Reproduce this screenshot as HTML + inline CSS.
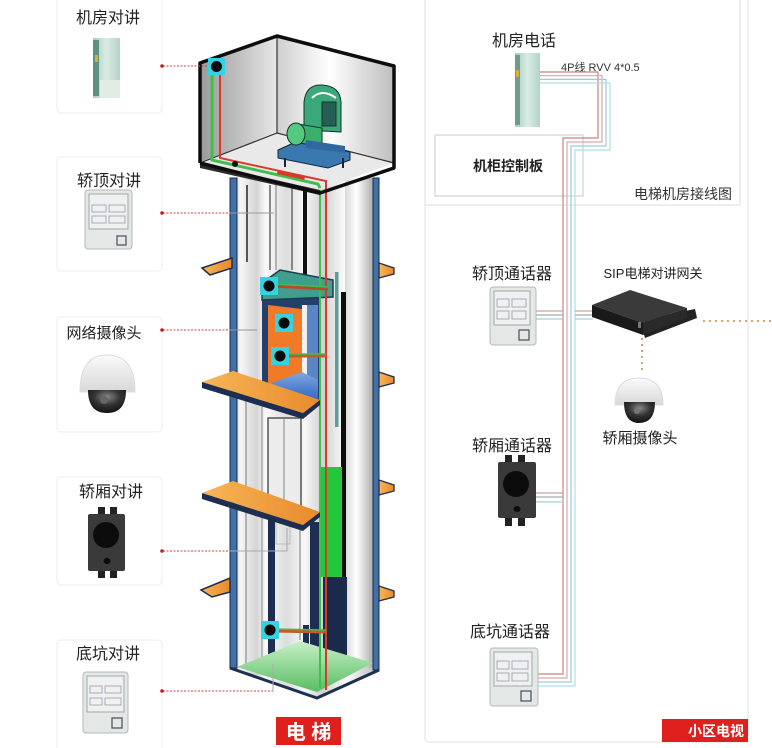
<!DOCTYPE html>
<html><head><meta charset="utf-8"><style>
html,body{margin:0;padding:0;background:#fff;}
svg{display:block;}
text{font-family:"Liberation Sans","Noto Sans CJK SC",sans-serif;}
</style></head><body>
<svg width="772" height="748" viewBox="0 0 772 748" xmlns="http://www.w3.org/2000/svg">
<defs>
<linearGradient id="gWL" x1="0" x2="1" y1="0" y2="0"><stop offset="0" stop-color="#9a9a9a"/><stop offset="1" stop-color="#e6e6e6"/></linearGradient>
<linearGradient id="gWR" x1="0" x2="1" y1="0" y2="0"><stop offset="0" stop-color="#cfcfcf"/><stop offset="0.45" stop-color="#ffffff"/><stop offset="1" stop-color="#bdbdbd"/></linearGradient>
<linearGradient id="gSh" x1="0" x2="1" y1="0" y2="0">
<stop offset="0" stop-color="#c4c4c4"/><stop offset="0.07" stop-color="#f6f6f6"/><stop offset="0.18" stop-color="#d4d4d4"/><stop offset="0.24" stop-color="#fafafa"/><stop offset="0.38" stop-color="#dcdcdc"/><stop offset="0.5" stop-color="#f8f8f8"/><stop offset="0.62" stop-color="#d0d0d0"/><stop offset="0.78" stop-color="#fdfdfd"/><stop offset="1" stop-color="#b4b4b4"/></linearGradient>
<linearGradient id="gCol" x1="0" x2="1" y1="0" y2="0"><stop offset="0" stop-color="#d8d8d8"/><stop offset="0.4" stop-color="#ffffff"/><stop offset="1" stop-color="#a8a8a8"/></linearGradient>
<linearGradient id="gOr" x1="0" x2="1" y1="0" y2="0"><stop offset="0" stop-color="#f7b656"/><stop offset="1" stop-color="#e88a2c"/></linearGradient>
<linearGradient id="gPh" x1="0" x2="1" y1="0" y2="0"><stop offset="0" stop-color="#a6ccbf"/><stop offset="0.5" stop-color="#d9ece5"/><stop offset="1" stop-color="#b4d2c7"/></linearGradient>
<linearGradient id="gPit" x1="0" x2="0" y1="0" y2="1"><stop offset="0" stop-color="#c8f0c8"/><stop offset="1" stop-color="#58bd62"/></linearGradient>
<linearGradient id="gBlue" x1="0" x2="0" y1="0" y2="1"><stop offset="0" stop-color="#7fa8e0"/><stop offset="1" stop-color="#2d62c0"/></linearGradient>
<linearGradient id="gDome" x1="0" x2="0" y1="0" y2="1"><stop offset="0" stop-color="#fafafa"/><stop offset="1" stop-color="#d8d8d8"/></linearGradient>
<radialGradient id="gLens" cx="0.5" cy="0.3" r="0.7"><stop offset="0" stop-color="#888"/><stop offset="0.5" stop-color="#333"/><stop offset="1" stop-color="#111"/></radialGradient>
</defs>

<!-- ============ LEFT CARDS ============ -->
<g fill="#fff" stroke="#ececec" stroke-width="1">
<rect x="57" y="-4" width="105" height="117" rx="4"/>
<rect x="57" y="157" width="105" height="114" rx="4"/>
<rect x="57" y="317" width="105" height="115" rx="4"/>
<rect x="57" y="477" width="105" height="108" rx="4"/>
<rect x="57" y="640" width="105" height="112" rx="4"/>
</g>
<g font-size="16" fill="#222" text-anchor="middle">
<text x="108" y="23">机房对讲</text>
<text x="109" y="186">轿顶对讲</text>
<text x="104" y="338" font-size="15">网络摄像头</text>
<text x="111" y="497">轿厢对讲</text>
<text x="108" y="659">底坑对讲</text>
</g>

<!-- card1 device -->
<rect x="93" y="38" width="27" height="60" fill="url(#gPh)"/>
<rect x="93" y="40" width="6" height="56" fill="#5f8f80"/>
<rect x="95" y="55" width="3" height="7" fill="#d6b032"/>
<rect x="100" y="80" width="20" height="18" fill="#e2ece7"/>

<!-- card2 device -->
<rect x="85" y="190" width="47" height="59" rx="3" fill="#e3e7e6" stroke="#b5baba"/>
<rect x="89" y="194" width="39" height="35" fill="#eef1f0" stroke="#a0a8a8"/>
<rect x="92" y="205" width="14" height="7" fill="none" stroke="#aab"/><rect x="109" y="205" width="16" height="7" fill="none" stroke="#aab"/>
<rect x="92" y="216" width="14" height="7" fill="none" stroke="#aab"/><rect x="109" y="216" width="16" height="7" fill="none" stroke="#aab"/>
<rect x="117" y="236" width="9" height="9" fill="none" stroke="#556" stroke-width="1.3"/>

<!-- card3 camera -->
<path d="M80,392 Q80,355 107,355 Q135,355 135,392 Z" fill="url(#gDome)" stroke="#ddd"/>
<path d="M88,390 L126,390 Q126,413 107,413 Q88,413 88,390 Z" fill="url(#gLens)"/>
<circle cx="104" cy="400" r="4" fill="#666"/>

<!-- card4 device -->
<rect x="98" y="507" width="7" height="9" fill="#222"/><rect x="110" y="507" width="7" height="9" fill="#222"/>
<rect x="98" y="569" width="7" height="9" fill="#222"/><rect x="110" y="569" width="7" height="9" fill="#222"/>
<rect x="88" y="514" width="37" height="57" rx="2" fill="#3a3a3a"/>
<circle cx="106" cy="535" r="13" fill="#0c0c0c"/>
<ellipse cx="107" cy="561" rx="3.5" ry="3" fill="#0c0c0c"/>

<!-- card5 device -->
<rect x="83" y="672" width="45" height="61" rx="3" fill="#e3e7e6" stroke="#b5baba"/>
<rect x="87" y="676" width="37" height="36" fill="#eef1f0" stroke="#a0a8a8"/>
<rect x="90" y="686" width="12" height="7" fill="none" stroke="#aab"/><rect x="105" y="686" width="16" height="7" fill="none" stroke="#aab"/>
<rect x="90" y="698" width="12" height="7" fill="none" stroke="#aab"/><rect x="105" y="698" width="16" height="7" fill="none" stroke="#aab"/>
<rect x="112" y="718" width="10" height="10" fill="none" stroke="#556" stroke-width="1.3"/>

<!-- ============ SHAFT ============ -->
<polygon points="230,178 379,178 379,670 317,698 230,668" fill="url(#gSh)"/>
<rect x="345" y="178" width="29" height="490" fill="url(#gCol)"/>
<rect x="230" y="178" width="7" height="490" fill="#3f70a8" stroke="#1b2c4c" stroke-width="1"/>
<rect x="373" y="178" width="6" height="492" fill="#3f70a8" stroke="#1b2c4c" stroke-width="1"/>
<!-- upper rails -->
<g stroke-width="2">
<line x1="247" y1="185" x2="247" y2="262" stroke="#555"/>
<line x1="270" y1="185" x2="270" y2="270" stroke="#666" stroke-width="1.5"/>
<line x1="276" y1="185" x2="276" y2="270" stroke="#777" stroke-width="1"/>
<line x1="292" y1="185" x2="292" y2="270" stroke="#666" stroke-width="1.5"/>
<line x1="305" y1="190" x2="305" y2="278" stroke="#111" stroke-width="4"/>
<line x1="246" y1="380" x2="246" y2="665" stroke="#777" stroke-width="1"/>
<line x1="262" y1="395" x2="262" y2="665" stroke="#888" stroke-width="1"/>
<line x1="300" y1="520" x2="300" y2="640" stroke="#777" stroke-width="1"/>
</g>
<!-- door -->
<rect x="268" y="418" width="33" height="92" fill="#ececec" stroke="#555" stroke-width="1.5"/>
<line x1="284" y1="418" x2="284" y2="510" stroke="#888"/>
<rect x="276" y="520" width="14" height="24" fill="none" stroke="#bbb"/>
<!-- cabin -->
<polygon points="262,296 320,296 320,404 262,392" fill="#24406a"/>
<polygon points="268,305 302,309 302,372 268,388" fill="#f07a28"/>
<rect x="302" y="305" width="5" height="70" fill="#f2f2f2"/>
<polygon points="307,305 318,305 318,402 307,400" fill="#5b86c6"/>
<polygon points="266,385 302,372 318,380 318,402 266,392" fill="url(#gBlue)"/>
<polygon points="262,283 280,270 333,280 333,297 262,300" fill="#3f9e8e" stroke="#1c3c50" stroke-width="1.5"/>
<!-- rails/bars -->
<rect x="335" y="272" width="3.5" height="155" fill="#5d9c9a"/>
<rect x="341" y="292" width="5" height="298" fill="#0d0d0d"/>
<polygon points="320,467 342,467 342,577 320,577" fill="#22c83a"/>
<rect x="323" y="577" width="24" height="84" fill="#1a2a4a"/>
<rect x="310" y="522" width="10" height="135" fill="#1e2e50"/>
<rect x="268" y="520" width="7" height="135" fill="#1e2e50"/>
<rect x="303" y="625" width="6" height="43" fill="#1e2e50"/>
<!-- pit floor -->
<polygon points="237,667 300,641 373,663 317,692" fill="url(#gPit)"/>
<polyline points="230,668 317,698 379,670" fill="none" stroke="#1e3050" stroke-width="3"/>
<!-- cables -->
<polyline points="320,186 320,688" fill="none" stroke="#3fbf4e" stroke-width="2"/>
<polyline points="326,184 326,690" fill="none" stroke="#d83a2a" stroke-width="2"/>

<!-- slabs -->
<polygon points="202,268 232,258 232,268 210,275" fill="url(#gOr)" stroke="#1e2e50" stroke-width="1.5"/>
<polygon points="202,382 233,371 320,400 303,413" fill="url(#gOr)"/>
<polygon points="202,382 303,413 303,419 202,388" fill="#1e2e50"/>
<polygon points="303,413 320,400 320,405 303,419" fill="#1e2e50"/>
<polygon points="202,493 233,481 320,512 303,525" fill="url(#gOr)"/>
<polygon points="202,493 303,525 303,531 202,499" fill="#1e2e50"/>
<polygon points="303,525 320,512 320,517 303,531" fill="#1e2e50"/>
<polygon points="201,590 230,578 230,592 212,597" fill="url(#gOr)" stroke="#1e2e50" stroke-width="1.5"/>
<g fill="url(#gOr)" stroke="#1e2e50" stroke-width="1.3">
<polygon points="379,263 394,268 394,274 379,278"/>
<polygon points="379,372 394,377 394,383 379,387"/>
<polygon points="379,480 394,485 394,491 379,495"/>
<polygon points="379,586 394,591 394,597 379,601"/>
</g>

<!-- cameras in shaft and bars -->
<line x1="272" y1="286" x2="328" y2="289" stroke="#b84a2a" stroke-width="3"/>
<line x1="272" y1="284" x2="328" y2="287" stroke="#3fbf4e" stroke-width="1.5"/>
<line x1="283" y1="356" x2="326" y2="356" stroke="#c25a2a" stroke-width="3"/>
<line x1="283" y1="354" x2="326" y2="354" stroke="#3fbf4e" stroke-width="1.5"/>
<line x1="272" y1="631" x2="326" y2="632" stroke="#c25a2a" stroke-width="3"/>
<line x1="272" y1="629" x2="326" y2="630" stroke="#3fbf4e" stroke-width="1.5"/>
<g fill="#35d2e2">
<rect x="260" y="277" width="18" height="18"/>
<rect x="275" y="314" width="18" height="18"/>
<rect x="271" y="347" width="18" height="18"/>
<rect x="261" y="621" width="18" height="18"/>
</g>
<g fill="#0a0a0a">
<circle cx="269" cy="286" r="5.5"/><circle cx="284" cy="323" r="5.5"/><circle cx="280" cy="356" r="5.5"/><circle cx="270" cy="630" r="5.5"/>
</g>

<!-- ============ MACHINE ROOM ============ -->
<polygon points="200,63 277,36 277,133 200,163" fill="url(#gWL)"/>
<polygon points="277,36 394,66 394,163 277,133" fill="url(#gWR)"/>
<polygon points="200,163 277,133 394,163 320,190" fill="#e9e9e9"/>
<polygon points="200,163 320,190 320,195 200,168" fill="#2a2a2a"/>
<line x1="277" y1="36" x2="277" y2="133" stroke="#333" stroke-width="1.2"/>
<polyline points="200,163 277,133 394,163" fill="none" stroke="#333" stroke-width="1.2"/>
<!-- machine -->
<polygon points="278,150 300,140 350,152 350,160 328,168 278,158" fill="#3a78b0" stroke="#13243a" stroke-width="1"/>
<line x1="285" y1="158" x2="285" y2="167" stroke="#13243a" stroke-width="2"/>
<line x1="343" y1="158" x2="343" y2="168" stroke="#13243a" stroke-width="2"/>
<path d="M304,130 L304,102 Q306,84 322,85 Q340,86 341,102 L341,132 Z" fill="#3aa878" stroke="#13352a" stroke-width="1"/>
<path d="M312,98 Q322,88 336,98" fill="none" stroke="#fff" stroke-width="2"/>
<rect x="322" y="102" width="14" height="24" fill="#245e55" stroke="#13352a"/>
<polygon points="298,124 322,128 322,146 298,143" fill="#3ab06c" stroke="#13352a" stroke-width="1"/>
<ellipse cx="296" cy="134" rx="9" ry="11" fill="#55c87f" stroke="#13352a" stroke-width="1"/>
<polygon points="306,140 345,146 345,153 306,148" fill="#2e6aa0"/>
<!-- machine room cables -->
<polyline points="212,75 212,160 318,184 320,188" fill="none" stroke="#3fbf4e" stroke-width="3"/>
<polyline points="220,75 220,158 326,181 326,188" fill="none" stroke="#d83a2a" stroke-width="2"/>
<rect x="277" y="173" width="28" height="4" fill="#d83a2a" transform="rotate(12 291 175)"/>
<circle cx="235" cy="164" r="3" fill="#111"/>
<!-- outline -->
<polyline points="200,163 200,63 277,36 394,66 394,168 320,193 200,163" fill="none" stroke="#0d0d0d" stroke-width="3.5" stroke-linejoin="round"/>
<rect x="208" y="58" width="17" height="17" fill="#35d2e2"/>
<circle cx="216.5" cy="66.5" r="5.5" fill="#0a0a0a"/>

<!-- connector lines from cards -->
<g fill="none" stroke-width="1">
<line x1="163" y1="66" x2="207" y2="66" stroke="#c44" stroke-dasharray="2,1.5"/>
<line x1="163" y1="213" x2="230" y2="213" stroke="#c44" stroke-dasharray="2,1.5"/>
<line x1="230" y1="213" x2="274" y2="213" stroke="#999"/>
<line x1="163" y1="330" x2="230" y2="330" stroke="#c44" stroke-dasharray="2,1.5"/>
<line x1="230" y1="330" x2="257" y2="330" stroke="#999"/>
<line x1="163" y1="551" x2="230" y2="551" stroke="#c44" stroke-dasharray="2,1.5"/>
<polyline points="230,551 287,551 287,528" stroke="#aaa"/>
<line x1="163" y1="691" x2="273" y2="691" stroke="#c44" stroke-dasharray="2,1.5"/>
<line x1="273" y1="691" x2="273" y2="664" stroke="#aaa"/>
</g>
<g fill="#b22">
<circle cx="162" cy="66" r="1.8"/><circle cx="162" cy="213" r="1.8"/><circle cx="162" cy="330" r="1.8"/><circle cx="162" cy="551" r="1.8"/><circle cx="162" cy="691" r="1.8"/>
</g>

<!-- 电梯 label -->
<rect x="276" y="717" width="65" height="28" fill="#e0201c"/>
<text x="308.5" y="739" font-size="20" font-weight="bold" fill="#fff" text-anchor="middle">电 梯</text>

<!-- ============ RIGHT PANEL ============ -->
<rect x="425" y="-5" width="323" height="747" rx="4" fill="none" stroke="#e2e2e2"/>
<rect x="425" y="-5" width="315" height="210" fill="none" stroke="#dcdcdc"/>
<rect x="435" y="135" width="148" height="61" fill="#fff" stroke="#c8c8c8"/>
<text x="508" y="171" font-size="14" font-weight="bold" fill="#222" text-anchor="middle">机柜控制板</text>
<text x="683" y="199" font-size="14" fill="#333" text-anchor="middle">电梯机房接线图</text>
<text x="524" y="46" font-size="16" fill="#222" text-anchor="middle">机房电话</text>
<text x="561" y="71" font-size="11" fill="#333">4P线 RVV 4*0.5</text>

<!-- phone -->
<rect x="515" y="53" width="25" height="74" fill="url(#gPh)"/>
<rect x="515" y="55" width="5" height="70" fill="#6d9c8e"/>
<rect x="516" y="70" width="3" height="7" fill="#d6b032"/>

<!-- cable bundle -->
<g fill="none" stroke-width="1.2">
<polyline points="540,72 598,72 598,138 563,138 563,674 538,674" stroke="#c98282"/>
<polyline points="540,75.7 602,75.7 602,142 567,142 567,678 538,678" stroke="#d9a8a8"/>
<polyline points="540,79.4 606,79.4 606,146 571,146 571,682 538,682" stroke="#9fc9d4"/>
<polyline points="540,83 610,83 610,150 575,150 575,686 538,686" stroke="#a6e0e8"/>
<line x1="535" y1="311" x2="563" y2="311" stroke="#c9a0a0"/>
<line x1="535" y1="315" x2="563" y2="315" stroke="#aaa"/>
<line x1="535" y1="319" x2="563" y2="319" stroke="#9fd0da"/>
<line x1="575" y1="311" x2="593" y2="311" stroke="#c9a0a0"/>
<line x1="575" y1="315" x2="593" y2="315" stroke="#aaa"/>
<line x1="575" y1="319" x2="593" y2="319" stroke="#9fd0da"/>
<line x1="536" y1="493" x2="563" y2="493" stroke="#c9a0a0"/>
<line x1="536" y1="497" x2="563" y2="497" stroke="#aaa"/>
<line x1="536" y1="502" x2="563" y2="502" stroke="#9fd0da"/>
</g>

<!-- 轿顶通话器 -->
<text x="512" y="279" font-size="16" fill="#222" text-anchor="middle">轿顶通话器</text>
<rect x="490" y="287" width="46" height="58" rx="3" fill="#e3e7e6" stroke="#b5baba"/>
<rect x="494" y="291" width="36" height="34" fill="#eef1f0" stroke="#a0a8a8"/>
<rect x="497" y="299" width="12" height="8" fill="none" stroke="#aab"/><rect x="512" y="299" width="14" height="8" fill="none" stroke="#aab"/>
<rect x="497" y="311" width="12" height="8" fill="none" stroke="#aab"/><rect x="512" y="311" width="14" height="8" fill="none" stroke="#aab"/>
<rect x="519" y="330" width="10" height="10" fill="none" stroke="#556" stroke-width="1.3"/>

<!-- SIP gateway -->
<text x="653" y="278" font-size="13" fill="#222" text-anchor="middle">SIP电梯对讲网关</text>
<polygon points="640,320 695,309 697,318 645,338" fill="#222"/>
<polygon points="592,305 630,290 687,308 643,323" fill="#3a3a3a"/>
<polygon points="592,305 643,323 643,335 592,317" fill="#1a1a1a"/>
<polygon points="643,323 687,308 687,318 643,335" fill="#2a2a2a"/>
<rect x="638" y="322" width="3" height="6" fill="#777"/>
<line x1="703" y1="321" x2="772" y2="321" stroke="#e0a070" stroke-width="2" stroke-dasharray="2,4"/>
<line x1="642" y1="338" x2="642" y2="372" stroke="#d4a070" stroke-width="2" stroke-dasharray="2,4"/>

<!-- camera right -->
<path d="M615,405 Q615,378 639,378 Q663,378 663,405 Z" fill="url(#gDome)" stroke="#ddd"/>
<path d="M624,402 L655,402 Q655,423 639,423 Q624,423 624,402 Z" fill="url(#gLens)"/>
<circle cx="637" cy="411" r="3" fill="#777"/>
<text x="640" y="443" font-size="15" fill="#222" text-anchor="middle">轿厢摄像头</text>

<!-- 轿厢通话器 -->
<text x="512" y="451" font-size="16" fill="#222" text-anchor="middle">轿厢通话器</text>
<rect x="505" y="455" width="7" height="9" fill="#222"/><rect x="518" y="455" width="7" height="9" fill="#222"/>
<rect x="505" y="517" width="7" height="9" fill="#222"/><rect x="518" y="517" width="7" height="9" fill="#222"/>
<rect x="498" y="462" width="38" height="56" rx="2" fill="#3a3a3a"/>
<circle cx="516" cy="484" r="13" fill="#0c0c0c"/>
<ellipse cx="517" cy="509" rx="3.5" ry="3" fill="#0c0c0c"/>

<!-- 底坑通话器 -->
<text x="510" y="637" font-size="16" fill="#222" text-anchor="middle">底坑通话器</text>
<rect x="490" y="648" width="48" height="58" rx="3" fill="#e3e7e6" stroke="#b5baba"/>
<rect x="494" y="652" width="38" height="34" fill="#eef1f0" stroke="#a0a8a8"/>
<rect x="497" y="661" width="12" height="8" fill="none" stroke="#aab"/><rect x="512" y="661" width="16" height="8" fill="none" stroke="#aab"/>
<rect x="497" y="673" width="12" height="8" fill="none" stroke="#aab"/><rect x="512" y="673" width="16" height="8" fill="none" stroke="#aab"/>
<rect x="521" y="691" width="10" height="10" fill="none" stroke="#556" stroke-width="1.3"/>

<!-- 小区电视 -->
<rect x="662" y="719" width="86" height="23" fill="#e0201c"/>
<text x="744" y="736" font-size="14" font-weight="bold" fill="#fff" text-anchor="end">小区电视</text>
</svg>
</body></html>
